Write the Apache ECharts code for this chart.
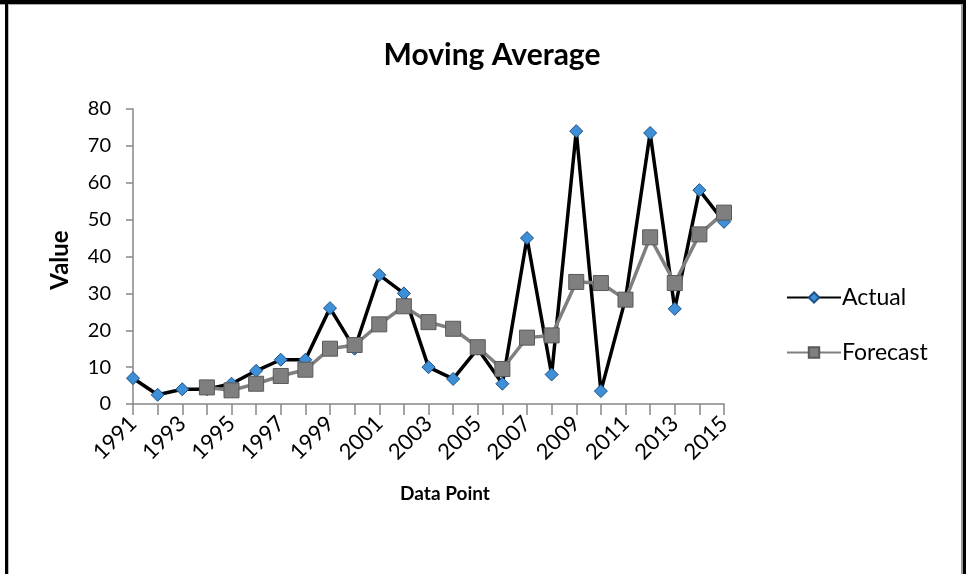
<!DOCTYPE html>
<html><head><meta charset="utf-8">
<script src="https://cdn.jsdelivr.net/npm/echarts@6/dist/echarts.min.js"></script>
<style>html,body{margin:0;padding:0;background:#fff}#c{width:966px;height:574px}</style>
</head><body><div id="c"></div>
<script>
const years = ['1991','1992','1993','1994','1995','1996','1997','1998','1999','2000','2001','2002','2003','2004','2005','2006','2007','2008','2009','2010','2011','2012','2013','2014','2015'];
const actual = [7, 2.5, 4, 4, 5.5, 9, 12, 12, 26, 15, 35, 30, 10, 6.8, 15, 5.5, 45, 8, 74, 3.5, 28.5, 73.5, 25.8, 58, 49.4];
const forecast = [null, null, null, 4.5, 3.7, 5.5, 7.6, 9.3, 15, 16, 21.6, 26.5, 22.2, 20.4, 15.4, 9.5, 18, 18.6, 33.1, 32.8, 28.3, 45.2, 32.8, 46, 51.9];
const yTicks = {min: 0, max: 80, interval: 10};

const font = 'Lato, "Open Sans", sans-serif';
const chart = echarts.init(document.getElementById('c'), null, {renderer: 'canvas'});
chart.setOption({
  animation: false,
  backgroundColor: '#fff',
  title: {
    text: 'Moving Average', left: 487, top: 35, textAlign: 'center',
    textStyle: {fontFamily: font, fontSize: 30, fontWeight: 'bold', color: '#000'}
  },
  grid: {left: 133, right: 242, top: 109, bottom: 170, containLabel: false},
  legend: {
    orient: 'vertical', left: 786, top: 286, padding: 0, itemGap: 32, itemWidth: 54, itemHeight: 13,
    textStyle: {fontFamily: font, fontSize: 23, color: '#000', padding: [0,0,0,-4]},
    data: ['Actual', 'Forecast']
  },
  xAxis: {
    type: 'category', data: years, boundaryGap: false,
    axisLine: {lineStyle: {color: '#868686', width: 1.5}},
    axisTick: {show: true, interval: 0, length: 11, lineStyle: {color: '#868686', width: 1.5}},
    axisLabel: {interval: 1, rotate: 45, margin: 16, fontFamily: font, fontSize: 22, color: '#000'},
    splitLine: {show: false}
  },
  yAxis: {
    type: 'value', min: yTicks.min, max: yTicks.max, interval: yTicks.interval,
    axisLine: {show: true, lineStyle: {color: '#868686', width: 1.5}},
    axisTick: {show: true, length: 7, lineStyle: {color: '#868686', width: 1.5}},
    axisLabel: {margin: 22, fontFamily: font, fontSize: 20, color: '#000'},
    splitLine: {show: false}
  },
  graphic: [
    {type: 'text', x: 60, y: 260, rotation: Math.PI/2, style: {text: 'Value', fontFamily: font, fontSize: 24, fontWeight: 'bold', fill: '#000', textAlign: 'center', textVerticalAlign: 'middle'}},
    {type: 'text', x: 445, y: 494, style: {text: 'Data Point', fontFamily: font, fontSize: 19, fontWeight: 'bold', fill: '#000', textAlign: 'center', textVerticalAlign: 'middle'}},
    {type: 'rect', shape: {x: 0, y: 0, width: 966, height: 4}, style: {fill: '#000'}, silent: true},
    {type: 'rect', shape: {x: 0, y: 4, width: 966, height: 1}, style: {fill: '#aaa'}, silent: true},
    {type: 'rect', shape: {x: 5, y: 0, width: 3, height: 574}, style: {fill: '#000'}, silent: true},
    {type: 'rect', shape: {x: 8, y: 4, width: 1, height: 570}, style: {fill: '#bbb'}, silent: true},
    {type: 'rect', shape: {x: 963, y: 0, width: 3, height: 574}, style: {fill: '#000'}, silent: true},
    {type: 'rect', shape: {x: 961, y: 4, width: 2, height: 570}, style: {fill: '#999'}, silent: true}
  ],
  series: [
    {
      name: 'Actual', type: 'line', data: actual,
      symbol: 'diamond', symbolSize: 13, showAllSymbol: true,
      lineStyle: {color: '#000', width: 3.5},
      itemStyle: {color: '#3d8fd8', borderColor: '#1f4f80', borderWidth: 1}
    },
    {
      name: 'Forecast', type: 'line', data: forecast,
      symbol: 'rect', symbolSize: 15, showAllSymbol: true,
      lineStyle: {color: '#7f7f7f', width: 3.5},
      itemStyle: {color: '#7f7f7f', borderColor: '#595959', borderWidth: 1}
    }
  ]
});
</script></body></html>
